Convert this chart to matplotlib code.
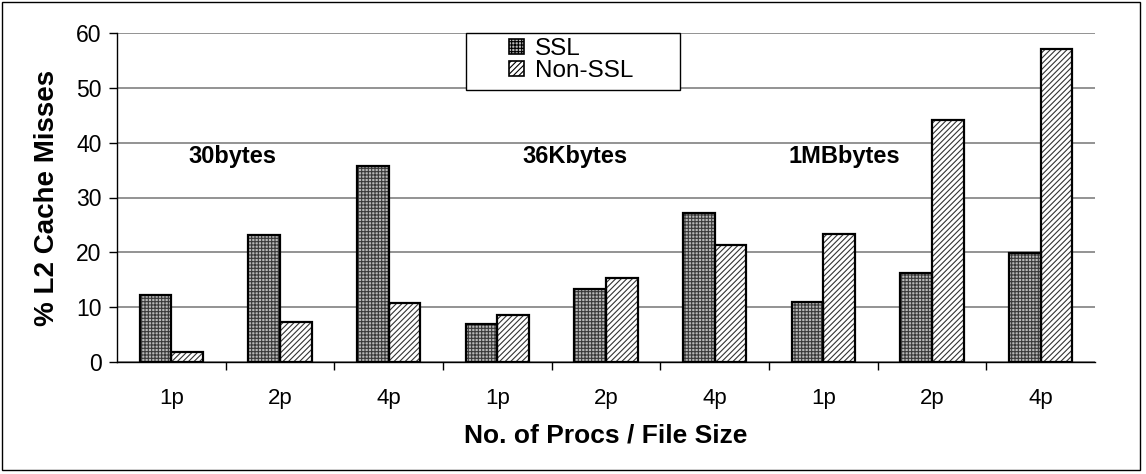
import numpy as np
import matplotlib.pyplot as plt
from matplotlib.patches import Rectangle, Patch

plt.rcParams['font.family'] = ['Liberation Sans', 'DejaVu Sans']
plt.rcParams['hatch.linewidth'] = 0.8

# data
procs = ['1p', '2p', '4p', '1p', '2p', '4p', '1p', '2p', '4p']
groups = ['30bytes', '36Kbytes', '1MBbytes']
ssl = [12.2, 23.2, 35.8, 7.0, 13.3, 27.1, 11.0, 16.3, 19.8]
non_ssl = [1.8, 7.3, 10.7, 8.6, 15.4, 21.4, 23.3, 44.1, 57.0]

fig = plt.figure(figsize=(11.46, 4.74), dpi=100)
ax = fig.add_axes([117 / 1146, (474 - 362) / 474, 978 / 1146, 329 / 474])

x = np.arange(len(procs))
w = 0.29
ssl_style = dict(facecolor='#b8b8b8', edgecolor='#3a3a3a', hatch='+++++')
non_style = dict(facecolor='white', edgecolor='#333333', hatch='//////')
# fill + hatch first, then black outline on top
ax.bar(x - w / 2, ssl, w, linewidth=0, zorder=3, **ssl_style)
ax.bar(x + w / 2, non_ssl, w, linewidth=0, zorder=3, **non_style)
ax.bar(x - w / 2, ssl, w, fill=False, edgecolor='black', linewidth=1.6, zorder=4)
ax.bar(x + w / 2, non_ssl, w, fill=False, edgecolor='black', linewidth=1.6, zorder=4)

ax.set_xlim(-0.5, len(procs) - 0.5)
ax.set_ylim(0, 60)
ax.set_yticks(range(0, 61, 10))
ax.yaxis.grid(True, color='#808080', linewidth=1.2, zorder=0)
ax.set_xticks(x)
ax.set_xticklabels(procs, fontsize=16)
ax.set_xticks(np.arange(0.5, len(procs) - 1, 1), minor=True)
ax.tick_params(axis='x', which='major', length=0, pad=19)
ax.tick_params(axis='x', which='minor', length=6, direction='out', width=1)
ax.tick_params(axis='y', labelsize=16.5, length=6, direction='out', width=1, pad=5)

for s in ['top', 'right']:
    ax.spines[s].set_visible(False)
for s in ['left', 'bottom']:
    ax.spines[s].set_linewidth(1.0)

ax.set_ylabel('% L2 Cache Misses', fontsize=20, fontweight='bold', labelpad=12)
ax.set_xlabel('No. of Procs / File Size', fontsize=19, fontweight='bold', labelpad=10)

group_x = [0.56, 3.71, 6.19]
for gx, g in zip(group_x, groups):
    ax.text(gx, 37.4, g, fontsize=17, fontweight='bold', ha='center', va='center')

# legend box drawn by hand, entries placed inside it
ax.add_patch(Rectangle((0.357, 0.827), 0.2187, 0.173, transform=ax.transAxes,
                       facecolor='white', edgecolor='black', linewidth=1.0,
                       zorder=5, clip_on=False))
handles = [Patch(linewidth=1.2, label='SSL', facecolor='#b8b8b8', edgecolor='black', hatch='+++++'),
           Patch(linewidth=1.2, label='Non-SSL', facecolor='white', edgecolor='black', hatch='//////')]
leg = ax.legend(handles=handles, loc='upper left', bbox_to_anchor=(0.401, 0.985),
                fontsize=17.5, frameon=False, borderpad=0, handlelength=0.6,
                handleheight=0.6, handletextpad=0.45, labelspacing=0.0, borderaxespad=0)
leg.set_zorder(6)

fig.patches.append(Rectangle((2 / 1146, 4 / 474), 1138 / 1146, 468 / 474,
                             transform=fig.transFigure, fill=False,
                             edgecolor='black', linewidth=1.0))

fig.savefig('out.png', dpi=100)
